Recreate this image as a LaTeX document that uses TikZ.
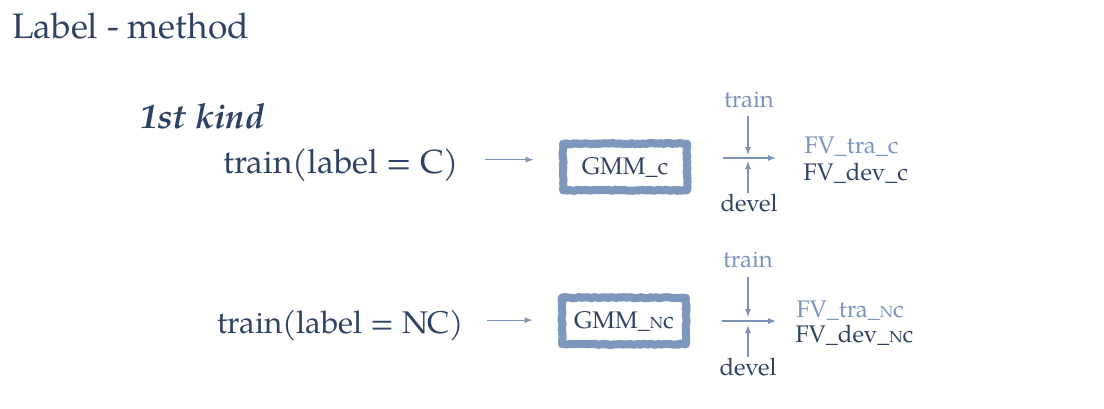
\documentclass[tikz,border=0pt]{standalone}
\usepackage{fontspec}
\setmainfont{TeX Gyre Pagella}
\usetikzlibrary{arrows.meta,decorations.pathmorphing}
\definecolor{dark}{RGB}{46,67,99}
\definecolor{light}{RGB}{122,148,190}
\definecolor{boxc}{RGB}{112,140,182}
\tikzset{
  px/.style={x=0.75pt,y=-0.75pt},
  big/.style={font=\fontsize{25pt}{30pt}\selectfont, text=dark, inner sep=0pt},
  small/.style={font=\fontsize{18pt}{22pt}\selectfont, inner sep=0pt},
  arr/.style={draw=light, line width=0.8pt, -{Latex[length=6pt,width=4.5pt]}},
  gmm/.style={draw=boxc!90, line width=6pt, line join=round, line cap=round,
    minimum width=93pt, minimum height=35pt,
    font=\fontsize{18pt}{22pt}\selectfont, text=dark,
    decoration={random steps,segment length=1.5pt,amplitude=0.5pt}, decorate},
}
\begin{document}
\begin{tikzpicture}[px]
\useasboundingbox (0,0) rectangle (1104,408);
\node[anchor=base west, font=\fontsize{26.5pt}{31pt}\selectfont, text=dark, inner sep=0pt] (title) at (12,38) {Label - method};
\node[anchor=base west, font=\fontsize{26pt}{31pt}\selectfont\bfseries\itshape, text=dark, inner sep=0pt] (kind) at (140,128) {1st kind};
% row 1
\node[big, anchor=base west] (tc) at (223,173) {train(label = C)};
\node[gmm] (gc) at (625,167) {};
\node[small, text=dark] (gct) at (625,167) {GMM\_c};
\draw[arr, shorten <=19.5pt, shorten >=19pt] (tc.east) ++(0,-5) coordinate (tce) (tce) -- (gc.west |- tce);
\node[small, text=light] (trc) at (749,100) {train};
\node[small, text=dark] (dvc) at (749,203) {devel};
\coordinate (h1s) at (723,158);
\coordinate (h1e) at (776,158);
\coordinate (v1t) at (748,116);
\coordinate (v1ta) at (748,155);
\coordinate (v1b) at (748,193);
\coordinate (v1ba) at (748,161);
\draw[arr] (h1s) -- (h1e);
\draw[arr] (v1t) -- (v1ta);
\draw[arr] (v1b) -- (v1ba);
\node[small, text=light, anchor=base west] (fvtc) at (804,153) {FV\_tra\_c};
\node[small, text=dark, anchor=base west] (fvdc) at (803,180) {FV\_dev\_c};
% row 2
\node[big, font=\fontsize{23.5pt}{28pt}\selectfont, anchor=base west] (tnc) at (217,333) {train(label = NC)};
\node[gmm] (gnc) at (624,321) {};
\node[small, text=dark] (gnct) at (624,321) {GMM\_{\fontsize{12pt}{13pt}\selectfont N}c};
\draw[arr, shorten <=17pt, shorten >=19pt] (tnc.east) ++(0,-5) coordinate (tnce) (tnce) -- (gnc.west |- tnce);
\node[small, text=light] (trnc) at (748,260) {train};
\node[small, text=dark] (dvnc) at (748,367) {devel};
\coordinate (h2s) at (722,321);
\coordinate (h2e) at (776,321);
\coordinate (v2t) at (748,277);
\coordinate (v2ta) at (748,317);
\coordinate (v2b) at (748,357);
\coordinate (v2ba) at (748,325);
\draw[arr] (h2s) -- (h2e);
\draw[arr] (v2t) -- (v2ta);
\draw[arr] (v2b) -- (v2ba);
\node[small, text=light, anchor=base west] (fvtnc) at (796,317) {FV\_tra\_{\fontsize{12pt}{13pt}\selectfont N}c};
\node[small, text=dark, anchor=base west] (fvdnc) at (795,342) {FV\_dev\_{\fontsize{12pt}{13pt}\selectfont N}c};
\end{tikzpicture}
\end{document}
